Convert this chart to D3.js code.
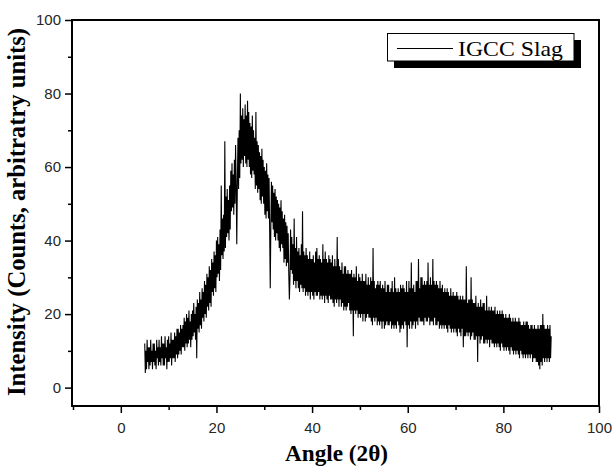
<!DOCTYPE html>
<html>
<head>
<meta charset="utf-8">
<script src="https://cdn.jsdelivr.net/npm/d3@7/dist/d3.min.js"></script>
<style>
  html, body { margin: 0; padding: 0; background: #ffffff; }
  svg { display: block; }
</style>
</head>
<body>
<svg id="chart" width="613" height="466"></svg>
<script>
// ---- data ----
const angleStart = 5;       // first measured angle (2θ)
const angleStep = 0.125;    // measurement step (2θ)
const intensity = [
  12, 4, 10, 5, 13, 7, 11, 5,        // 5
  11, 6, 13, 7, 10, 5, 12, 7,        // 6
  12, 6, 10, 5, 13, 8, 11, 6,        // 7
  13, 7, 11, 6, 14, 8, 12, 6,        // 8
  12, 6, 14, 8, 11, 5, 13, 7,        // 9
  14, 7, 12, 8, 15, 6, 13, 8,        // 10
  13, 8, 15, 7, 14, 9, 16, 8,        // 11
  16, 9, 15, 10, 17, 9, 16, 11,      // 12
  17, 11, 19, 10, 18, 12, 20, 11,    // 13
  19, 12, 21, 13, 18, 11, 20, 13,    // 14
  21, 14, 23, 15, 20, 13, 22, 8,     // 15
  24, 16, 23, 15, 26, 17, 24, 16,    // 16
  27, 19, 26, 18, 29, 20, 28, 19,    // 17
  31, 22, 30, 21, 33, 23, 32, 22,    // 18
  35, 26, 34, 25, 37, 27, 36, 26,    // 19
  40, 30, 41, 31, 39, 29, 43, 32,    // 20
  55, 36, 46, 35, 47, 37, 67, 38,    // 21
  52, 41, 54, 42, 51, 40, 55, 43,    // 22
  59, 48, 61, 49, 58, 47, 62, 50,    // 23
  66, 55, 39, 56, 68, 54, 70, 57,    // 24
  80, 61, 74, 62, 76, 60, 73, 63,    // 25
  77, 61, 74, 60, 78, 62, 75, 60,    // 26
  72, 58, 71, 57, 74, 59, 70, 58,    // 27
  68, 54, 75, 55, 67, 53, 66, 54,    // 28
  64, 51, 63, 50, 65, 52, 62, 50,    // 29
  60, 47, 59, 46, 61, 48, 58, 46,    // 30
  57, 43, 27, 44, 56, 45, 55, 43,    // 31
  53, 41, 54, 40, 52, 42, 51, 40,    // 32
  50, 38, 49, 37, 51, 39, 48, 38,    // 33
  46, 34, 47, 35, 45, 33, 44, 34,    // 34
  42, 31, 24, 30, 43, 32, 41, 31,    // 35
  39, 28, 46, 29, 38, 27, 41, 29,    // 36
  37, 27, 38, 26, 36, 28, 39, 27,    // 37
  48, 26, 37, 27, 36, 25, 38, 26,    // 38
  36, 25, 35, 26, 37, 24, 35, 26,    // 39
  35, 25, 36, 24, 34, 26, 37, 25,    // 40
  38, 25, 35, 26, 36, 24, 35, 25,    // 41
  34, 24, 39, 25, 35, 23, 37, 25,    // 42
  35, 24, 34, 23, 36, 25, 35, 24,    // 43
  34, 24, 36, 23, 33, 22, 35, 24,    // 44
  33, 23, 41, 24, 35, 22, 33, 24,    // 45
  32, 22, 34, 23, 31, 21, 33, 22,    // 46
  33, 21, 31, 22, 32, 23, 31, 21,    // 47
  31, 20, 32, 21, 30, 14, 31, 21,    // 48
  30, 20, 33, 21, 29, 19, 31, 20,    // 49
  30, 19, 29, 20, 31, 18, 29, 20,    // 50
  29, 18, 31, 19, 28, 20, 30, 19,    // 51
  28, 19, 30, 18, 29, 17, 38, 19,    // 52
  29, 18, 27, 19, 28, 17, 29, 18,    // 53
  28, 17, 29, 18, 27, 16, 28, 18,    // 54
  27, 16, 29, 17, 26, 18, 28, 17,    // 55
  28, 17, 26, 18, 27, 16, 29, 17,    // 56
  26, 16, 30, 17, 27, 16, 26, 18,    // 57
  27, 17, 26, 15, 28, 16, 27, 17,    // 58
  28, 16, 27, 18, 26, 17, 29, 11,    // 59
  26, 17, 29, 16, 27, 18, 34, 16,    // 60
  27, 17, 28, 18, 26, 16, 29, 18,    // 61
  29, 17, 35, 19, 27, 18, 30, 18,    // 62
  30, 18, 28, 17, 29, 19, 28, 18,    // 63
  29, 18, 34, 19, 28, 17, 30, 18,    // 64
  28, 18, 35, 17, 29, 19, 28, 17,    // 65
  29, 17, 28, 18, 27, 16, 29, 17,    // 66
  27, 16, 28, 17, 26, 16, 27, 17,    // 67
  26, 16, 27, 15, 26, 17, 25, 16,    // 68
  27, 15, 25, 16, 26, 15, 25, 16,    // 69
  25, 15, 26, 14, 25, 16, 24, 15,    // 70
  25, 14, 24, 16, 25, 11, 24, 14,    // 71
  24, 14, 33, 15, 23, 14, 24, 15,    // 72
  24, 13, 30, 14, 24, 15, 23, 13,    // 73
  23, 13, 25, 14, 22, 7, 23, 14,     // 74
  22, 12, 24, 13, 22, 14, 23, 12,    // 75
  23, 12, 21, 13, 25, 12, 21, 13,    // 76
  22, 11, 21, 13, 22, 12, 21, 12,    // 77
  21, 11, 22, 12, 20, 11, 21, 12,    // 78
  20, 11, 21, 10, 20, 12, 21, 11,    // 79
  20, 10, 19, 11, 20, 10, 19, 11,    // 80
  19, 10, 20, 9, 19, 11, 18, 10,     // 81
  19, 9, 18, 10, 19, 9, 18, 10,      // 82
  18, 9, 19, 8, 18, 10, 17, 9,       // 83
  17, 8, 18, 9, 17, 8, 18, 9,        // 84
  18, 8, 17, 9, 16, 8, 17, 9,        // 85
  17, 7, 16, 8, 17, 8, 16, 7,        // 86
  16, 7, 17, 6, 16, 5, 17, 7,        // 87
  17, 6, 20, 8, 17, 7, 16, 8,        // 88
  16, 7, 17, 8, 16, 7, 17, 8,        // 89
  14                                 // 90
];
const xMajorTicks = [0, 20, 40, 60, 80, 100];
const xMinorTicks = [-10, 10, 30, 50, 70, 90];
const yMajorTicks = [0, 20, 40, 60, 80, 100];
const yMinorTicks = [10, 30, 50, 70, 90];
const xDomain = [-10, 100];
const yDomain = [-5, 100];
const seriesName = "IGCC Slag";
const xTitle = "Angle (2θ)";
const yTitle = "Intensity (Counts, arbitratry units)";

// ---- layout ----
const plot = { left: 72, right: 599, top: 20, bottom: 406 };
const svg = d3.select("#chart");

const x = d3.scaleLinear().domain(xDomain).range([plot.left + 1, plot.right]);
const y = d3.scaleLinear().domain(yDomain).range([plot.bottom, plot.top]);

const points = intensity.map((v, i) => [angleStart + i * angleStep, v]);

// data line
svg.append("path")
  .datum(points)
  .attr("fill", "none")
  .attr("stroke", "#000")
  .attr("stroke-width", 1.1)
  .attr("stroke-linejoin", "bevel")
  .attr("d", d3.line().x(d => x(d[0])).y(d => y(d[1])));

// axes
const tickFont = "'Liberation Sans', Arial, sans-serif";

const yAxis = svg.append("g").attr("transform", `translate(${plot.left},0)`)
  .call(d3.axisLeft(y).tickValues(yMajorTicks).tickSize(7).tickSizeOuter(0).tickPadding(4));
const yMinor = svg.append("g").attr("transform", `translate(${plot.left},0)`)
  .call(d3.axisLeft(y).tickValues(yMinorTicks).tickSize(4).tickSizeOuter(0).tickFormat(""));
const xAxis = svg.append("g").attr("transform", `translate(0,${plot.bottom})`)
  .call(d3.axisBottom(x).tickValues(xMajorTicks).tickSize(7).tickSizeOuter(0).tickPadding(9));
const xMinor = svg.append("g").attr("transform", `translate(0,${plot.bottom})`)
  .call(d3.axisBottom(x).tickValues(xMinorTicks).tickSize(4).tickSizeOuter(0).tickFormat(""));

[yAxis, yMinor, xAxis, xMinor].forEach(g => {
  g.select(".domain").remove();
  g.selectAll(".tick line").attr("stroke", "#000").attr("stroke-width", 1.5);
  g.selectAll(".tick text")
    .attr("font-family", tickFont)
    .attr("font-size", 15)
    .attr("fill", "#262626");
});

// frame
const frame = svg.append("g").attr("stroke", "#000").attr("stroke-width", 2).attr("fill", "none");
frame.append("line").attr("x1", plot.left).attr("x2", plot.left).attr("y1", plot.top - 1).attr("y2", plot.bottom + 1);
frame.append("line").attr("x1", plot.left - 1).attr("x2", plot.right + 1).attr("y1", plot.bottom).attr("y2", plot.bottom);
frame.append("line").attr("x1", plot.left).attr("x2", plot.right + 1).attr("y1", plot.top).attr("y2", plot.top);
frame.append("line").attr("x1", plot.right).attr("x2", plot.right).attr("y1", plot.top).attr("y2", plot.bottom);

// axis titles
const titleFont = "'Liberation Serif', 'Times New Roman', serif";
svg.append("text")
  .attr("x", 336.5).attr("y", 461)
  .attr("text-anchor", "middle")
  .attr("font-family", titleFont).attr("font-weight", "bold").attr("font-size", 23)
  .attr("textLength", 103).attr("lengthAdjust", "spacingAndGlyphs")
  .text(xTitle);
svg.append("text")
  .attr("transform", "translate(25,212) rotate(-90)")
  .attr("text-anchor", "middle")
  .attr("font-family", titleFont).attr("font-weight", "bold").attr("font-size", 25)
  .attr("textLength", 368).attr("lengthAdjust", "spacingAndGlyphs")
  .text(yTitle);

// legend
const lg = svg.append("g");
lg.append("rect").attr("x", 394).attr("y", 40).attr("width", 187).attr("height", 28).attr("fill", "#000");
lg.append("rect").attr("x", 387.5).attr("y", 33.5).attr("width", 186.5).attr("height", 27.5)
  .attr("fill", "#fff").attr("stroke", "#000").attr("stroke-width", 1);
lg.append("line").attr("x1", 397).attr("x2", 453).attr("y1", 48.5).attr("y2", 48.5)
  .attr("stroke", "#000").attr("stroke-width", 1);
lg.append("text").attr("x", 458).attr("y", 56)
  .attr("font-family", titleFont).attr("font-size", 22)
  .attr("textLength", 105).attr("lengthAdjust", "spacingAndGlyphs")
  .text(seriesName);
</script>
</body>
</html>
